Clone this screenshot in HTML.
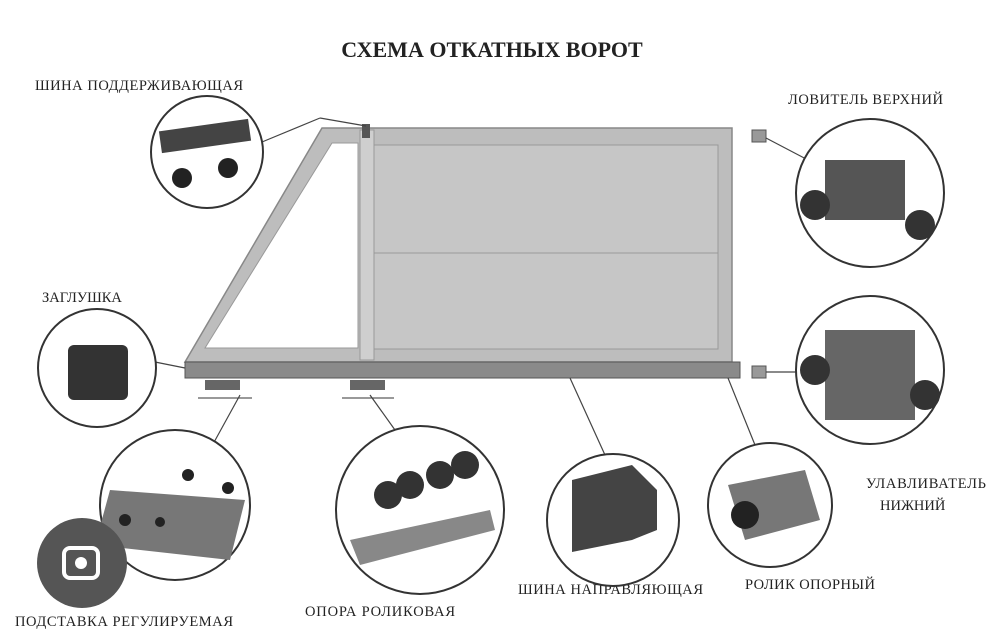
<!DOCTYPE html>
<html><head><meta charset="utf-8"><style>
html,body{margin:0;padding:0;background:#fff;}
svg{display:block}
text{font-family:"Liberation Serif",serif;fill:#222;}
</style></head><body>
<svg width="1000" height="644" viewBox="0 0 1000 644" xmlns="http://www.w3.org/2000/svg">
<rect width="1000" height="644" fill="#fff"/>
<text x="492" y="57" font-size="22" font-weight="bold" text-anchor="middle">СХЕМА ОТКАТНЫХ ВОРОТ</text>
<g font-size="14.5">
<text x="35" y="90" textLength="208">ШИНА ПОДДЕРЖИВАЮЩАЯ</text>
<text x="788" y="104" textLength="155">ЛОВИТЕЛЬ ВЕРХНИЙ</text>
<text x="42" y="302">ЗАГЛУШКА</text>
<text x="866" y="488" textLength="120">УЛАВЛИВАТЕЛЬ</text>
<text x="880" y="510">НИЖНИЙ</text>
<text x="15" y="626" textLength="218">ПОДСТАВКА РЕГУЛИРУЕМАЯ</text>
<text x="305" y="616" textLength="150">ОПОРА РОЛИКОВАЯ</text>
<text x="518" y="594" textLength="185">ШИНА НАПРАВЛЯЮЩАЯ</text>
<text x="745" y="589" textLength="130">РОЛИК ОПОРНЫЙ</text>
</g>
<!-- gate -->
<polygon points="322,128 732,128 732,362 185,362" fill="#bdbdbd" stroke="#888" stroke-width="1.5"/>
<polygon points="332,143 358,143 358,348 205,348" fill="#fff" stroke="#999"/>
<rect x="374" y="145" width="344" height="204" fill="#c6c6c6" stroke="#999"/>
<line x1="374" y1="253" x2="718" y2="253" stroke="#999"/>
<rect x="360" y="130" width="14" height="230" fill="#cfcfcf" stroke="#999"/>
<rect x="185" y="362" width="555" height="16" fill="#8a8a8a" stroke="#555"/>
<rect x="362" y="124" width="8" height="14" fill="#555"/>
<g fill="#666"><rect x="205" y="380" width="35" height="10"/><rect x="350" y="380" width="35" height="10"/></g>
<g stroke="#333"><line x1="198" y1="398" x2="252" y2="398"/><line x1="342" y1="398" x2="394" y2="398"/></g>
<rect x="752" y="130" width="14" height="12" fill="#999" stroke="#555"/>
<rect x="752" y="366" width="14" height="12" fill="#999" stroke="#555"/>
<!-- leader lines -->
<g stroke="#444" stroke-width="1.2" fill="none">
<line x1="262" y1="142" x2="320" y2="118"/><line x1="320" y1="118" x2="366" y2="126"/>
<line x1="766" y1="138" x2="808" y2="160"/>
<line x1="766" y1="372" x2="796" y2="372"/>
<line x1="155" y1="362" x2="185" y2="368"/>
<line x1="240" y1="395" x2="207" y2="455"/>
<line x1="370" y1="395" x2="395" y2="430"/>
<line x1="570" y1="378" x2="605" y2="455"/>
<line x1="728" y1="378" x2="755" y2="445"/>
</g>
<!-- circles -->
<g fill="#fff" stroke="#333" stroke-width="2">
<circle cx="207" cy="152" r="56"/>
<circle cx="870" cy="193" r="74"/>
<circle cx="870" cy="370" r="74"/>
<circle cx="97" cy="368" r="59"/>
<circle cx="175" cy="505" r="75"/>
<circle cx="420" cy="510" r="84"/>
<circle cx="613" cy="520" r="66"/>
<circle cx="770" cy="505" r="62"/>
</g>
<!-- contents -->
<rect x="160" y="125" width="90" height="22" fill="#444" transform="rotate(-8 205 136)"/>
<circle cx="182" cy="178" r="10" fill="#222"/><circle cx="228" cy="168" r="10" fill="#222"/>
<path d="M825 160 h80 v60 h-80z" fill="#555"/><circle cx="815" cy="205" r="15" fill="#333"/><circle cx="920" cy="225" r="15" fill="#333"/>
<path d="M825 330 h90 v90 h-90z" fill="#666"/><circle cx="815" cy="370" r="15" fill="#333"/><circle cx="925" cy="395" r="15" fill="#333"/>
<rect x="68" y="345" width="60" height="55" rx="6" fill="#333"/>
<polygon points="110,490 245,500 230,560 95,545" fill="#777"/>
<g fill="#222"><circle cx="125" cy="520" r="6"/><circle cx="188" cy="475" r="6"/><circle cx="228" cy="488" r="6"/><circle cx="160" cy="522" r="5"/></g>
<polygon points="350,540 490,510 495,530 360,565" fill="#888"/>
<g fill="#333"><circle cx="388" cy="495" r="14"/><circle cx="410" cy="485" r="14"/><circle cx="440" cy="475" r="14"/><circle cx="465" cy="465" r="14"/></g>
<path d="M572 480 l60 -15 l25 25 v40 l-25 10 l-60 12z" fill="#444"/>
<polygon points="728,485 805,470 820,520 745,540" fill="#777"/><circle cx="745" cy="515" r="14" fill="#222"/>
<!-- lens icon -->
<circle cx="82" cy="563" r="45" fill="#555"/>
<rect x="64" y="548" width="34" height="30" rx="6" fill="none" stroke="#fff" stroke-width="4"/>
<circle cx="81" cy="563" r="6" fill="#fff"/>
</svg>
</body></html>
